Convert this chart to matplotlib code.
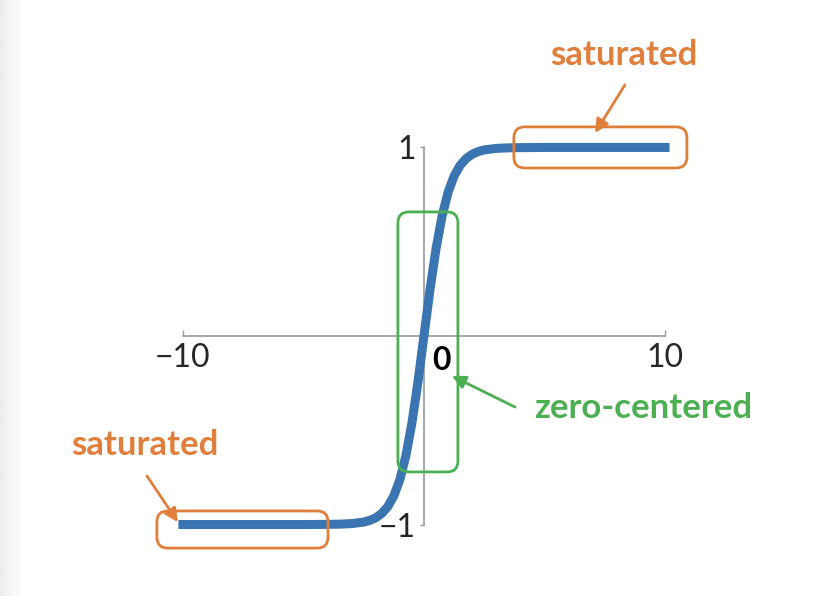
import numpy as np
import matplotlib
matplotlib.use('Agg')
import matplotlib.pyplot as plt
from matplotlib.patches import FancyBboxPatch

# ── values (tanh-shaped curve) ────────────────────────────────────────────
x_vals = [-10, -5, -4, -3.5, -3, -2.5, -2.25, -2, -1.75, -1.5, -1.25, -1,
          -0.75, -0.5, -0.25, 0, 0.25, 0.5, 0.75, 1, 1.25, 1.5, 1.75, 2,
          2.25, 2.5, 3, 3.5, 4, 5, 10]
y_vals = [-1.0, -1.0, -0.999, -0.998, -0.995, -0.987, -0.978, -0.964, -0.941,
          -0.905, -0.848, -0.762, -0.635, -0.462, -0.245, 0.0, 0.245, 0.462,
          0.635, 0.762, 0.848, 0.905, 0.941, 0.964, 0.978, 0.987, 0.995,
          0.998, 0.999, 1.0, 1.0]
x_ticks = [-10, 10]
x_tick_labels = ["\u221210", "10"]
y_ticks = [-1, 1]
y_tick_labels = ["\u22121", "1"]

BLUE = "#3a74b1"
ORANGE = "#e07f3c"
GREEN = "#4cb052"
AXIS = "#9a9a9a"
TICKTXT = "#262626"
FONT = ["Lato", "DejaVu Sans"]

fig = plt.figure(figsize=(8.32, 5.96), dpi=100)
fig.patch.set_facecolor("white")

# faint grey strip at the left edge
ax_bg = fig.add_axes([0, 0, 0.03, 1])
ax_bg.imshow(np.linspace(0.93, 1.0, 50)[None, :], cmap="gray", vmin=0, vmax=1,
             aspect="auto", extent=[0, 1, 0, 1])
ax_bg.axis("off")

# main axes fills the figure; limits chosen so origin sits at (424, 336) px
ax = fig.add_axes([0, 0, 1, 1])
ax.set_xlim(-17.59, 16.93)
ax.set_ylim(-1.379, 1.782)
ax.patch.set_alpha(0)

for s in ["top", "right"]:
    ax.spines[s].set_visible(False)
ax.spines["left"].set_position("zero")
ax.spines["bottom"].set_position("zero")
ax.spines["left"].set_bounds(-1, 1)
ax.spines["bottom"].set_bounds(-10, 10)
for s in ["left", "bottom"]:
    ax.spines[s].set_color(AXIS)
    ax.spines[s].set_linewidth(1.2)

ax.set_xticks(x_ticks)
ax.set_xticklabels(x_tick_labels)
ax.set_yticks(y_ticks)
ax.set_yticklabels(y_tick_labels)
ax.tick_params(axis="x", direction="in", length=4, width=1, color=AXIS,
               labelsize=23, labelcolor=TICKTXT, pad=5)
ax.tick_params(axis="y", direction="out", length=3, width=1, color=AXIS,
               labelsize=23, labelcolor=TICKTXT, pad=3)
for lab in ax.get_xticklabels() + ax.get_yticklabels():
    lab.set_family(FONT)
ax.text(0.72, -0.055, "0", ha="center", va="top", fontsize=23,
        color="black", family=FONT, fontweight="bold")

# curve
ax.plot(x_vals, y_vals, color=BLUE, lw=6.5, solid_capstyle="projecting",
        zorder=3)

# highlight boxes (rounded, aspect corrected)
asp = 24.1 / 188.5


def box(x0, x1, y0, y1, color):
    ax.add_patch(FancyBboxPatch((x0, y0), x1 - x0, y1 - y0,
                                boxstyle="round,pad=0,rounding_size=0.45",
                                mutation_aspect=asp, fill=False,
                                edgecolor=color, lw=2.0, zorder=4))


box(3.73, 10.91, 0.891, 1.109, ORANGE)
box(-11.08, -3.98, -1.125, -0.928, ORANGE)
box(-1.08, 1.41, -0.721, 0.658, GREEN)

# labels and arrows
arrow = dict(arrowstyle="-|>,head_length=0.8,head_width=0.4", lw=2.0,
             shrinkA=0, shrinkB=0)
ax.text(8.30, 1.491, "saturated", ha="center", va="center", fontsize=25,
        fontweight="bold", color=ORANGE, family=FONT)
ax.annotate("", xy=(7.10, 1.077), xytext=(8.34, 1.332),
            arrowprops=dict(arrow, color=ORANGE))
ax.text(-11.58, -0.578, "saturated", ha="center", va="center", fontsize=25,
        fontweight="bold", color=ORANGE, family=FONT)
ax.annotate("", xy=(-10.21, -0.987), xytext=(-11.49, -0.743),
            arrowprops=dict(arrow, color=ORANGE))
ax.text(9.09, -0.382, "zero-centered", ha="center", va="center", fontsize=25,
        fontweight="bold", color=GREEN, family=FONT)
ax.annotate("", xy=(1.16, -0.212), xytext=(3.78, -0.377),
            arrowprops=dict(arrow, color=GREEN))

fig.savefig("out.png", dpi=100, facecolor="white")
